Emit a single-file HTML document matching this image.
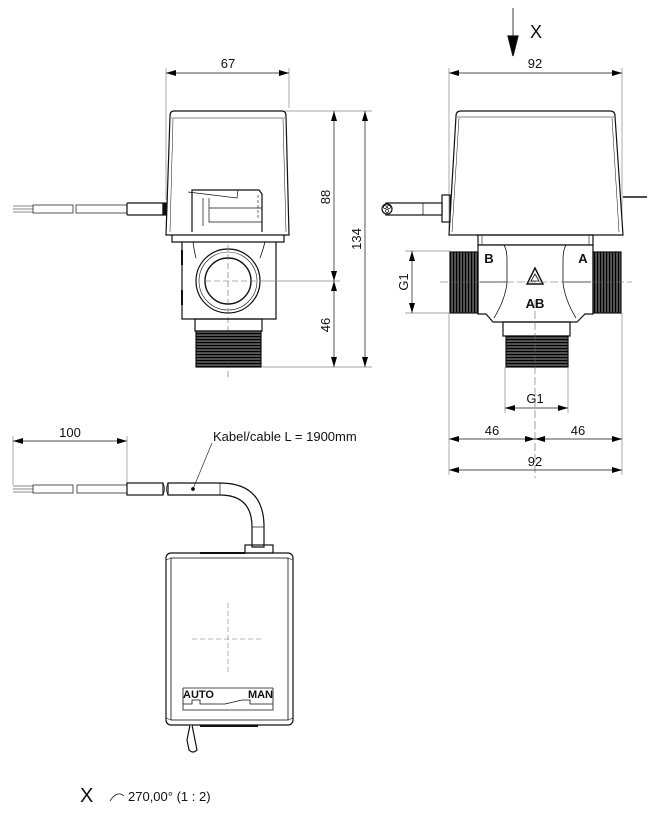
<!DOCTYPE html>
<html><head><meta charset="utf-8"><style>
html,body{margin:0;padding:0;background:#fff;}
svg{display:block;}
text{font-family:"Liberation Sans",Arial,sans-serif;fill:#111;}
</style></head><body>
<svg width="659" height="817" viewBox="0 0 659 817" xmlns="http://www.w3.org/2000/svg">
<defs>
<marker id="ar" viewBox="0 0 10 6" refX="10" refY="3" markerWidth="10" markerHeight="6" orient="auto-start-reverse" markerUnits="userSpaceOnUse"><path d="M0,0 L10,3 L0,6z" fill="#000"/></marker>
<pattern id="thrV" width="3" height="3" patternUnits="userSpaceOnUse"><rect width="3" height="3" fill="#555"/><line x1="0" y1="0.5" x2="3" y2="0.5" stroke="#000" stroke-width="1.2"/></pattern>
<pattern id="thrH" width="3" height="3" patternUnits="userSpaceOnUse"><rect width="3" height="3" fill="#555"/><line x1="0.5" y1="0" x2="0.5" y2="3" stroke="#000" stroke-width="1.2"/></pattern>
</defs>
<g stroke="#111" stroke-width="1.2" fill="none">
<!-- ===== LEFT VIEW ===== -->
<line x1="166" y1="68" x2="166" y2="200" stroke="#888" stroke-width="0.7"/>
<line x1="289" y1="68" x2="289" y2="108" stroke="#888" stroke-width="0.7"/>
<line x1="166" y1="73" x2="289" y2="73" stroke-width="0.7" marker-start="url(#ar)" marker-end="url(#ar)"/>
<path d="M174,111 L282,111 Q286,111 286,116 L289,235 L166,235 L170,116 Q170,111 174,111Z" fill="#fff"/>
<path d="M171,118 L285,118" stroke-width="0.6"/>
<path d="M173,119 L170,232 M283,119 L286,232" stroke-width="0.5"/>
<path d="M192,232 L192,190 L259,190 L262,194 L262,232" />
<path d="M188,192 L237,198 L238,190" stroke-width="0.7"/>
<path d="M203,198 L203,226 M209,198 L209,222 L262,222 M209,208 L262,208" stroke-width="0.7"/>
<line x1="258" y1="195" x2="258" y2="220" stroke-dasharray="3,2" stroke-width="0.6"/>
<path d="M172,235 L172,242 L284,242 L284,235"/>
<path d="M182,242 L182,319 L276,319 L276,242"/>
<path d="M193,242 Q194,250 196,258 M265,242 Q263,250 260,258" stroke-width="0.8"/>
<line x1="182" y1="250" x2="182" y2="265" stroke-width="2"/>
<line x1="182" y1="290" x2="182" y2="305" stroke-width="2"/>
<circle cx="228" cy="281" r="32"/>
<circle cx="228" cy="281" r="29" stroke-width="0.6"/>
<circle cx="228" cy="281" r="23" stroke-width="1.4"/>
<line x1="228" y1="245" x2="228" y2="378" stroke="#666" stroke-dasharray="6,3" stroke-width="0.6"/>
<line x1="205" y1="281" x2="260" y2="281" stroke="#666" stroke-dasharray="6,3" stroke-width="0.6"/>
<rect x="195" y="319" width="67" height="12"/>
<rect x="196" y="331" width="65" height="36" fill="url(#thrV)"/>
<line x1="13" y1="206" x2="33" y2="206" stroke-width="0.6"/>
<line x1="13" y1="209" x2="33" y2="209" stroke-width="0.6"/>
<line x1="13" y1="212" x2="33" y2="212" stroke-width="0.6"/>
<rect x="33" y="205" width="40" height="8" stroke-width="0.7"/>
<rect x="76" y="205" width="51" height="8" stroke-width="0.7"/>
<rect x="127" y="203" width="36" height="12" rx="1"/>
<rect x="163" y="203" width="3" height="12" fill="#111"/>
<line x1="285" y1="111" x2="372" y2="111" stroke="#888" stroke-width="0.7"/>
<line x1="260" y1="281" x2="340" y2="281" stroke="#888" stroke-width="0.7"/>
<line x1="262" y1="367" x2="372" y2="367" stroke="#888" stroke-width="0.7"/>
<line x1="334" y1="111" x2="334" y2="281" stroke-width="0.7" marker-start="url(#ar)" marker-end="url(#ar)"/>
<line x1="334" y1="281" x2="334" y2="367" stroke-width="0.7" marker-start="url(#ar)" marker-end="url(#ar)"/>
<line x1="365" y1="111" x2="365" y2="367" stroke-width="0.7" marker-start="url(#ar)" marker-end="url(#ar)"/>

<!-- ===== RIGHT VIEW ===== -->
<line x1="513" y1="8" x2="513" y2="40" stroke-width="0.8"/>
<path d="M508,36 L518,36 L513,56Z" fill="#000"/>
<line x1="449" y1="68" x2="449" y2="230" stroke="#888" stroke-width="0.7"/>
<line x1="622" y1="68" x2="622" y2="230" stroke="#888" stroke-width="0.7"/>
<line x1="449" y1="73" x2="622" y2="73" stroke-width="0.7" marker-start="url(#ar)" marker-end="url(#ar)"/>
<path d="M461,111 L610,111 Q615,111 615,116 L623,235 L449,235 L456,116 Q456,111 461,111Z" fill="#fff"/>
<line x1="457" y1="117" x2="614" y2="117" stroke-width="0.6"/>
<path d="M459,118 L452,232 M612,118 L619,232" stroke-width="0.5"/>
<rect x="442" y="195" width="8" height="27"/>
<rect x="386" y="203" width="56" height="12" fill="#fff"/>
<line x1="423" y1="203" x2="423" y2="215" stroke-width="0.7"/>
<circle cx="387" cy="209" r="5" fill="#fff"/>
<circle cx="385" cy="207" r="1.5" stroke-width="0.7"/>
<circle cx="389" cy="207" r="1.5" stroke-width="0.7"/>
<circle cx="387" cy="211" r="1.5" stroke-width="0.7"/>
<line x1="623" y1="197" x2="647" y2="197" stroke-width="1.5"/>
<rect x="478" y="235" width="115" height="10"/>
<line x1="482" y1="235" x2="482" y2="245" stroke-width="0.6"/><line x1="589" y1="235" x2="589" y2="245" stroke-width="0.6"/>
<path d="M478,245 L593,245 L593,314 L585,314 L577,322 L493,322 L486,314 L478,314Z" fill="#fff"/>
<path d="M504,245 Q507,250 507,260 L507,283 Q505,300 494,318 M566,245 Q563,250 563,260 L563,283 Q565,300 576,318" stroke-width="0.8"/>
<path d="M480,282 L507,282 M563,282 L591,282" stroke-width="0.7"/>
<rect x="450" y="252" width="28" height="61" fill="url(#thrH)"/>
<rect x="593" y="252" width="28" height="61" fill="url(#thrH)"/>
<rect x="503" y="322" width="67" height="14"/>
<rect x="506" y="336" width="62" height="31" fill="url(#thrV)"/>
<line x1="535" y1="300" x2="535" y2="478" stroke="#666" stroke-dasharray="8,3" stroke-width="0.6"/>
<line x1="440" y1="282" x2="632" y2="282" stroke="#666" stroke-dasharray="8,3" stroke-width="0.6"/>
<path d="M535,268 L543,284 L527,284Z" stroke-width="1.4"/>
<path d="M535,274 L539,281 L531,281Z" stroke-width="0.8"/>
<line x1="405" y1="251" x2="450" y2="251" stroke="#888" stroke-width="0.7"/>
<line x1="405" y1="313" x2="450" y2="313" stroke="#888" stroke-width="0.7"/>
<line x1="412" y1="251" x2="412" y2="313" stroke-width="0.7" marker-start="url(#ar)" marker-end="url(#ar)"/>
<line x1="505" y1="367" x2="505" y2="413" stroke="#888" stroke-width="0.7"/>
<line x1="568" y1="367" x2="568" y2="413" stroke="#888" stroke-width="0.7"/>
<line x1="505" y1="408" x2="568" y2="408" stroke-width="0.7" marker-start="url(#ar)" marker-end="url(#ar)"/>
<line x1="449" y1="313" x2="449" y2="475" stroke="#888" stroke-width="0.7"/>
<line x1="622" y1="313" x2="622" y2="475" stroke="#888" stroke-width="0.7"/>
<line x1="449" y1="439" x2="535" y2="439" stroke-width="0.7" marker-start="url(#ar)" marker-end="url(#ar)"/>
<line x1="535" y1="439" x2="622" y2="439" stroke-width="0.7" marker-start="url(#ar)" marker-end="url(#ar)"/>
<line x1="449" y1="470" x2="622" y2="470" stroke-width="0.7" marker-start="url(#ar)" marker-end="url(#ar)"/>

<!-- ===== BOTTOM VIEW ===== -->
<line x1="13" y1="436" x2="13" y2="485" stroke="#888" stroke-width="0.7"/>
<line x1="127" y1="436" x2="127" y2="483" stroke="#888" stroke-width="0.7"/>
<line x1="13" y1="441" x2="127" y2="441" stroke-width="0.7" marker-start="url(#ar)" marker-end="url(#ar)"/>
<line x1="13" y1="486" x2="33" y2="486" stroke-width="0.6"/>
<line x1="13" y1="489" x2="33" y2="489" stroke-width="0.6"/>
<line x1="13" y1="492" x2="33" y2="492" stroke-width="0.6"/>
<rect x="33" y="485" width="40" height="8" stroke-width="0.7"/>
<rect x="77" y="485" width="50" height="8" stroke-width="0.7"/>
<rect x="127" y="483" width="36" height="12"/>
<path d="M168,483 L220,483 Q263,483 264,525 L264,547 L252,547 L252,527 Q252,495 220,495 L168,495Z"/>
<line x1="220" y1="483" x2="220" y2="495" stroke-width="0.7"/>
<line x1="252" y1="527" x2="264" y2="527" stroke-width="0.7"/>
<path d="M163,483 Q166,489 163,495 M168,483 Q165,489 168,495" stroke-width="0.7"/>
<circle cx="193" cy="489" r="1.3" fill="#111"/>
<line x1="193" y1="489" x2="212" y2="443" stroke-width="0.6"/>
<rect x="245" y="545" width="28" height="8"/>
<rect x="166" y="553" width="127" height="172" rx="5"/>
<rect x="171" y="558" width="117" height="162" stroke-width="0.8"/>
<path d="M166,560 L171,558 M293,560 L288,558 M166,718 L171,720 M293,718 L288,720" stroke-width="0.6"/>
<line x1="200" y1="553" x2="245" y2="553" stroke-width="2"/>
<line x1="228" y1="603" x2="228" y2="675" stroke="#777" stroke-dasharray="5,3" stroke-width="0.6"/>
<line x1="192" y1="639" x2="264" y2="639" stroke="#777" stroke-dasharray="5,3" stroke-width="0.6"/>
<path d="M183,688 L273,688 M183,688 L183,710 L273,710 L273,688" stroke-width="0.8"/>
<path d="M183,704 L192,704 L192,700 L200,700 L200,704 L225,704 L242,700 L250,700 L250,704 L273,704" stroke-width="0.8"/>
<path d="M192,725 Q195,740 197,750 Q193,754 189,750 L187,740 L190,725" fill="#fff"/>
<line x1="200" y1="726" x2="258" y2="726" stroke-width="2"/>
<path d="M110,801 Q117,790 124,796" stroke-width="0.8"/>
</g>
<g font-size="13">
<text x="228" y="68" text-anchor="middle">67</text>
<text transform="translate(330,197) rotate(-90)" text-anchor="middle">88</text>
<text transform="translate(330,325) rotate(-90)" text-anchor="middle">46</text>
<text transform="translate(361,239) rotate(-90)" text-anchor="middle">134</text>
<text x="530" y="38" font-size="18">X</text>
<text x="535" y="68" text-anchor="middle">92</text>
<text transform="translate(408,282) rotate(-90)" text-anchor="middle">G1</text>
<text x="535" y="403" text-anchor="middle">G1</text>
<text x="492" y="435" text-anchor="middle">46</text>
<text x="578" y="435" text-anchor="middle">46</text>
<text x="535" y="466" text-anchor="middle">92</text>
<text x="70" y="437" text-anchor="middle">100</text>
<text x="213" y="441">Kabel/cable L = 1900mm</text>
<text x="128" y="801">270,00° (1 : 2)</text>
<text x="80" y="802" font-size="20">X</text>
</g>
<g font-weight="bold" font-size="13">
<text x="489" y="263" text-anchor="middle">B</text>
<text x="583" y="263" text-anchor="middle">A</text>
<text x="535" y="308" text-anchor="middle">AB</text>
<text x="183" y="698" font-size="11">AUTO</text>
<text x="273" y="698" font-size="11" text-anchor="end">MAN</text>
</g>
</svg>
</body></html>
